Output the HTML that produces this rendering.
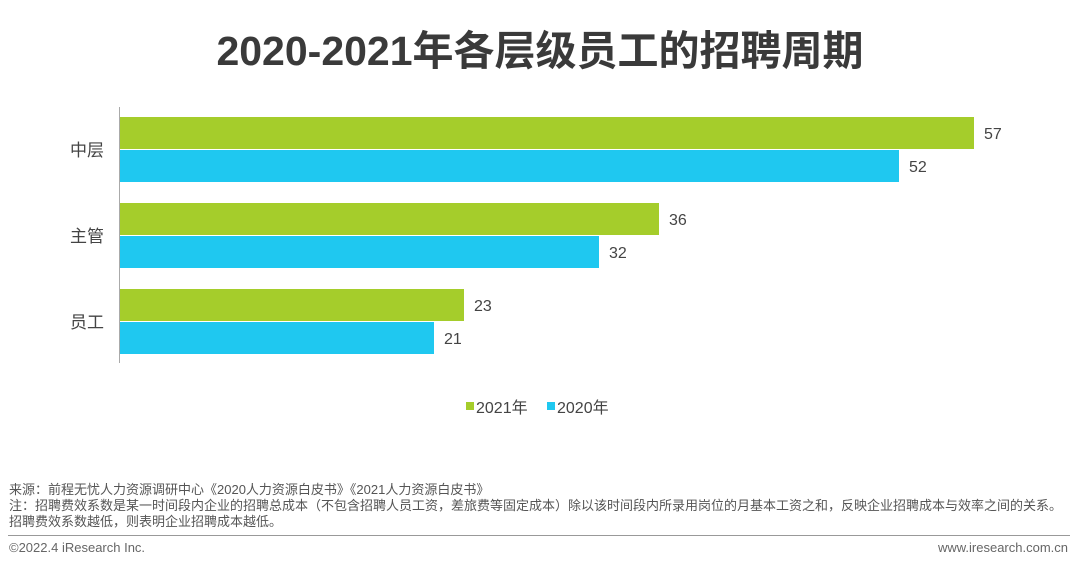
<!DOCTYPE html>
<html><head><meta charset="utf-8"><style>
body{margin:0;width:1080px;height:570px;background:#fff;font-family:"Liberation Sans","Noto Sans CJK SC",sans-serif;overflow:hidden;position:relative}
.t{position:absolute;white-space:nowrap}
</style></head><body>
<div class="t" style="left:0;width:1080px;text-align:center;top:17px;font-size:41px;font-weight:bold;color:#3a3a3a">2020-2021年各层级员工的招聘周期</div>
<svg id="c" width="1080" height="440" style="position:absolute;left:0;top:0"></svg>
<div class="t" style="left:9px;top:482px;font-size:13px;color:#555;line-height:16px">来源：前程无忧人力资源调研中心《2020人力资源白皮书》《2021人力资源白皮书》<br>注：招聘费效系数是某一时间段内企业的招聘总成本（不包含招聘人员工资，差旅费等固定成本）除以该时间段内所录用岗位的月基本工资之和，反映企业招聘成本与效率之间的关系。<br>招聘费效系数越低，则表明企业招聘成本越低。</div>
<div style="position:absolute;left:8px;width:1062px;top:535px;height:1px;background:#999"></div>
<div class="t" style="left:9px;top:540px;font-size:13px;color:#666">©2022.4 iResearch Inc.</div>
<div class="t" style="right:12px;top:540px;font-size:13px;color:#666">www.iresearch.com.cn</div>
<script>
const categories=["中层","主管","员工"];
const values2021=[57,36,23];
const values2020=[52,32,21];
const seriesNames=["2021年","2020年"];
const colors=["#a5cd2b","#1fc8f0"];
const svg=document.getElementById('c');const NS="http://www.w3.org/2000/svg";
const x0=119,ppu=15;
const xs=v=>x0+v*ppu;
function mk(t,a){const e=document.createElementNS(NS,t);for(const k in a)e.setAttribute(k,a[k]);svg.appendChild(e);return e;}
const ax=mk('line',{x1:x0+0.5,x2:x0+0.5,y1:107,y2:363,stroke:'#aaa','stroke-width':1});


categories.forEach((c,i)=>{
  const gy=117+i*86;
  const lb=mk('text',{x:104,y:gy+39,'text-anchor':'end','font-size':17,fill:'#444'});lb.textContent=c;
  
  
  [values2021[i],values2020[i]].forEach((v,j)=>{
    const y=gy+j*33;
    const r=mk('rect',{x:x0+1,y:y,width:xs(v)-x0-1,height:32,fill:colors[j]});
    
    
    const t=mk('text',{x:xs(v)+10,y:y+22,'font-size':16,fill:'#444'});t.textContent=v;
    
    
  });
});
const lx=[466,547];
seriesNames.forEach((n,j)=>{
  const s=mk('rect',{x:lx[j],y:402,width:8,height:8,fill:colors[j]});
  
  
  const t=mk('text',{x:lx[j]+10,y:413,'font-size':16,fill:'#444'});t.textContent=n;
  
  
});
</script>
</body></html>
